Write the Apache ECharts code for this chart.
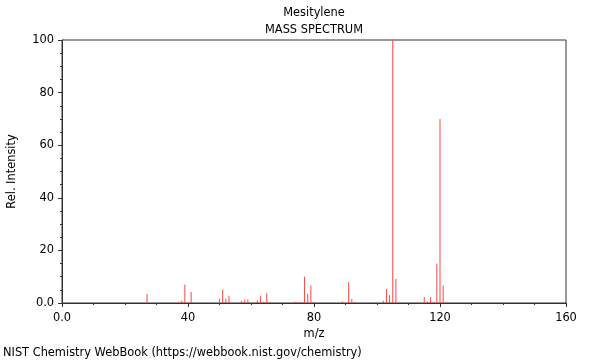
<!DOCTYPE html>
<html>
<head>
<meta charset="utf-8">
<script src="https://cdn.jsdelivr.net/npm/echarts@6/dist/echarts.min.js"></script>
<style>html,body{margin:0;padding:0;background:#fff}#c{width:600px;height:360px}</style>
</head>
<body>
<div id="c"></div>
<script>
const compound = "Mesitylene";
const subtitle = "MASS SPECTRUM";
const footer = "NIST Chemistry WebBook (https://webbook.nist.gov/chemistry)";
const mz = [15,27,29,37,38,39,40,41,50,51,52,53,57,58,59,62,63,64,65,66,74,75,76,77,78,79,80,89,91,92,93,102,103,104,105,106,107,115,116,117,118,119,120,121,122];
const intensity = [0.2,3.5,0.2,0.3,0.9,7,0.3,4.2,1.6,5,1.6,2.8,0.9,1.3,1.3,1,2.8,0.5,3.7,0.3,0.5,0.4,0.4,10,3.5,6.7,0.5,0.6,7.9,1.5,0.5,0.9,5.3,2.9,100,9.1,0.2,2.3,0.6,2.2,0.5,15,70,6.7,0.2];
const xTicks = [0,40,80,120,160];
const yTicks = [0,20,40,60,80,100];

const font = "DejaVu Sans";
const fs = 11.4;
const chart = echarts.init(document.getElementById('c'), null, {renderer:'canvas'});
const fmt = v => v === 0 ? '0.0' : String(v);
chart.setOption({
  animation:false,
  backgroundColor:'#fff',
  textStyle:{fontFamily:font},
  graphic:[
    {type:'text', x:314, y:13, style:{text:compound, font:fs+'px "DejaVu Sans"', fill:'#000', align:'center', verticalAlign:'middle'}},
    {type:'text', x:314, y:30, style:{text:subtitle, font:fs+'px "DejaVu Sans"', fill:'#000', align:'center', verticalAlign:'middle'}},
    {type:'text', x:3, y:353, style:{text:footer, font:fs+'px "DejaVu Sans"', fill:'#000', align:'left', verticalAlign:'middle'}}
  ],
  grid:{left:62, right:34, top:40, bottom:57, show:true, borderColor:'#333', borderWidth:1, backgroundColor:'transparent', containLabel:false, outerBoundsMode:'none'},
  xAxis:{type:'value', min:xTicks[0], max:xTicks[xTicks.length-1], interval:40,
    name:'m/z', nameLocation:'middle', nameGap:25, nameTextStyle:{fontFamily:font,fontSize:fs,color:'#000'},
    axisLine:{show:true, lineStyle:{color:'#333'}},
    axisTick:{show:true, length:4, lineStyle:{color:'#333'}},
    minorTick:{show:true, splitNumber:4, length:2, lineStyle:{color:'#333'}},
    splitLine:{show:false},
    axisLabel:{formatter:fmt, fontFamily:font, fontSize:fs, color:'#000', margin:10}},
  yAxis:{type:'value', min:yTicks[0], max:yTicks[yTicks.length-1], interval:20,
    name:'Rel. Intensity', nameLocation:'middle', nameGap:44, nameRotate:90, nameTextStyle:{fontFamily:font,fontSize:fs,color:'#000'},
    axisLine:{show:true, lineStyle:{color:'#333'}},
    axisTick:{show:true, length:4, lineStyle:{color:'#333'}},
    minorTick:{show:true, splitNumber:4, length:2, lineStyle:{color:'#333'}},
    splitLine:{show:false},
    axisLabel:{formatter:fmt, fontFamily:font, fontSize:fs, color:'#000', margin:8}},
  series:[{type:'bar', data:mz.map((m,i)=>[m,intensity[i]]), barWidth:1, itemStyle:{color:'rgb(255,70,70)'}, silent:true}]
});
</script>
</body>
</html>
